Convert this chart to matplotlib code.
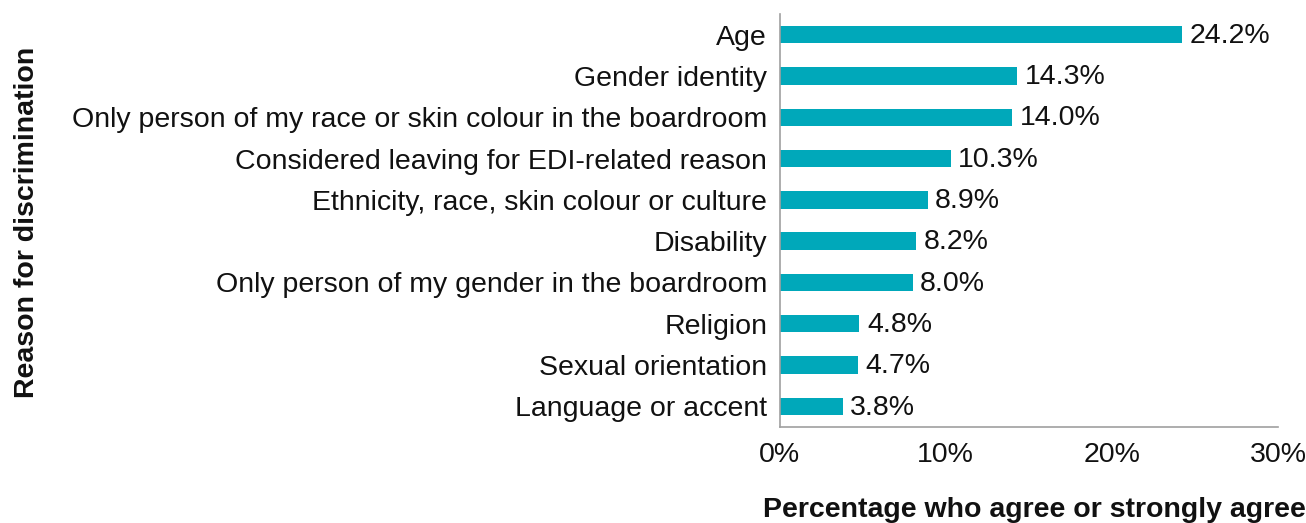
import matplotlib.pyplot as plt
from matplotlib.ticker import FuncFormatter

plt.rcParams['font.family'] = ['Liberation Sans', 'DejaVu Sans']

reasons = ['Age', 'Gender identity',
           'Only person of my race or skin colour in the boardroom',
           'Considered leaving for EDI-related reason',
           'Ethnicity, race, skin colour or culture', 'Disability',
           'Only person of my gender in the boardroom', 'Religion',
           'Sexual orientation', 'Language or accent']
values = [24.2, 14.3, 14.0, 10.3, 8.9, 8.2, 8.0, 4.8, 4.7, 3.8]
xticks = [0, 10, 20, 30]

bar_color = '#00A8BA'
axis_color = '#A0A0A0'
fs = 20.5

fig = plt.figure(figsize=(13.06, 5.23), dpi=100)
ax = fig.add_axes([0.597, 0.1836, 0.3816, 0.7896])

y = list(range(len(reasons)))
ax.barh(y, values, height=0.42, color=bar_color)
for yi, v in zip(y, values):
    ax.text(v + 0.45, yi + 0.03, f'{v:.1f}%', va='center', ha='left', fontsize=fs, color='#111111')

ax.set_ylim(len(reasons) - 0.5, -0.5)
ax.set_xlim(0, 30)
ax.set_yticks(y)
ax.set_yticklabels(reasons, fontsize=fs, color='#111111')
ax.set_xticks(xticks)
ax.xaxis.set_major_formatter(FuncFormatter(lambda v, p: f'{v:.0f}%'))
ax.tick_params(axis='both', length=0, labelsize=fs, labelcolor='#111111')
ax.tick_params(axis='y', pad=9)
ax.tick_params(axis='x', pad=11)

for s in ['top', 'right']:
    ax.spines[s].set_visible(False)
for s in ['left', 'bottom']:
    ax.spines[s].set_color(axis_color)
    ax.spines[s].set_linewidth(1.2)

fig.text(1.0, 0.025, 'Percentage who agree or strongly agree', ha='right', va='center',
         fontsize=fs, fontweight='bold', color='#111111')
fig.text(0.021, 0.575, 'Reason for discrimination', ha='center', va='center',
         rotation=90, fontsize=fs, fontweight='bold', color='#111111')

fig.savefig('out.png', dpi=100)
